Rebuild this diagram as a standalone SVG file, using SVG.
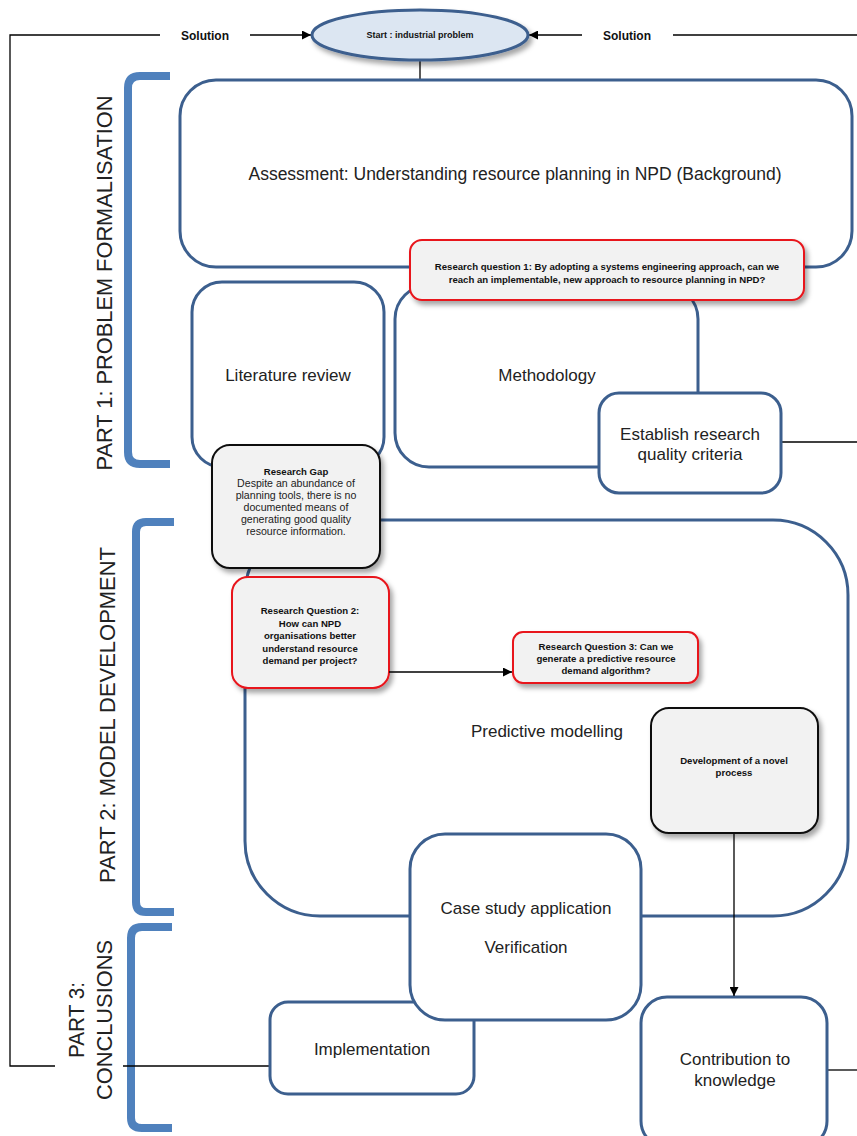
<svg xmlns="http://www.w3.org/2000/svg" width="857" height="1136" viewBox="0 0 857 1136">
<style>
.box{fill:#fff;stroke:#3c5f8e;stroke-width:3}
.rq{fill:#f2f2f2;stroke:#e8141b;stroke-width:2}
.gry{fill:#f2f2f2;stroke:#111;stroke-width:2}
.brk{fill:none;stroke:#4f81bd;stroke-width:8;stroke-linecap:butt}
.ln{fill:none;stroke:#000;stroke-width:1.3}
.t{font-family:"Liberation Sans",Arial,sans-serif;font-size:17px;fill:#222;text-anchor:middle}
.b{font-family:"Liberation Sans",Arial,sans-serif;font-size:9.6px;font-weight:bold;fill:#111;text-anchor:middle}
.s{font-family:"Liberation Sans",Arial,sans-serif;font-size:10.6px;fill:#222;text-anchor:middle}
.sol{font-family:"Liberation Sans",Arial,sans-serif;font-size:12px;font-weight:bold;fill:#111;text-anchor:middle}
.part{font-family:"Liberation Sans",Arial,sans-serif;font-size:22px;fill:#222;text-anchor:middle}
</style>
<defs>
<marker id="arr" viewBox="0 0 10 10" refX="10" refY="5" markerWidth="9" markerHeight="9" markerUnits="userSpaceOnUse" orient="auto">
<path d="M0,0 L10,5 L0,10 z" fill="#000"/>
</marker>
<filter id="sh" x="-10%" y="-10%" width="125%" height="130%">
<feDropShadow dx="3" dy="4" stdDeviation="2.5" flood-color="#000" flood-opacity="0.35"/>
</filter>
</defs>

<g id="brackets">
<path class="brk" d="M170,76 L140,76 Q128,76 128,88 L128,452 Q128,464 140,464 L170,464"/>
<path class="brk" d="M174,522 L146,522 Q136,522 136,532 L136,902 Q136,912 146,912 L174,912"/>
<path class="brk" d="M172,927 L142,927 Q131,927 131,938 L131,1118 Q131,1128 142,1128 L172,1128"/>
</g>
<g id="part-labels">
<text class="part" transform="translate(112,283) rotate(-90)" textLength="375" lengthAdjust="spacingAndGlyphs">PART 1: PROBLEM FORMALISATION</text>
<text class="part" transform="translate(115,715) rotate(-90)" textLength="336" lengthAdjust="spacingAndGlyphs">PART 2:  MODEL DEVELOPMENT</text>
<text class="part" transform="translate(84,1020) rotate(-90)" textLength="76" lengthAdjust="spacingAndGlyphs">PART 3:</text>
<text class="part" transform="translate(112,1020) rotate(-90)" textLength="160" lengthAdjust="spacingAndGlyphs">CONCLUSIONS</text>
</g>

<g id="connectors">
<polyline class="ln" points="160,35 10,35 10,1066 55,1066"/>
<line class="ln" x1="123" y1="1066" x2="270" y2="1066"/>
<line class="ln" x1="250" y1="35" x2="311" y2="35" marker-end="url(#arr)"/>
<line class="ln" x1="582" y1="35" x2="529" y2="35" marker-end="url(#arr)"/>
<line class="ln" x1="673" y1="35" x2="857" y2="35"/>
<line class="ln" x1="420" y1="60" x2="420" y2="80"/>
<line class="ln" x1="781" y1="442" x2="857" y2="442"/>
<line class="ln" x1="827" y1="1070" x2="857" y2="1070"/>
</g>

<g id="start">
<ellipse cx="420" cy="35" rx="108" ry="25" fill="#dce6f2" stroke="#3c5f8e" stroke-width="3" filter="url(#sh)"/>
<text class="b" x="420" y="38" style="font-size:9px">Start : industrial problem</text>
</g>
<g id="solution-left"><text class="sol" x="205" y="40">Solution</text></g>
<g id="solution-right"><text class="sol" x="627" y="40">Solution</text></g>

<g id="assessment">
<rect class="box" x="180" y="80" width="672" height="187" rx="36"/>
<text class="t" x="515" y="180" style="font-size:17.5px">Assessment: Understanding resource planning in NPD (Background)</text>
</g>
<g id="literature">
<rect class="box" x="192" y="282" width="192" height="185" rx="30"/>
<text class="t" x="288" y="381">Literature review</text>
</g>
<g id="methodology">
<rect class="box" x="395" y="285" width="303" height="182" rx="34"/>
<text class="t" x="547" y="381">Methodology</text>
</g>
<g id="establish">
<rect class="box" x="599" y="393" width="182" height="100" rx="20"/>
<text class="t" x="690" y="440">Establish research</text>
<text class="t" x="690" y="460">quality criteria</text>
</g>
<g id="rq1">
<rect class="rq" x="410" y="240" width="394" height="60" rx="12" filter="url(#sh)"/>
<text class="b" x="607" y="270">Research question 1: By adopting a systems engineering approach, can we</text>
<text class="b" x="607" y="283">reach an implementable, new approach to resource planning in NPD?</text>
</g>

<g id="predictive">
<rect class="box" x="245" y="520" width="603" height="396" rx="75"/>
<text class="t" x="547" y="737">Predictive modelling</text>
</g>
<g id="research-gap">
<rect class="gry" x="212" y="445" width="168" height="123" rx="18" filter="url(#sh)"/>
<text class="b" x="296" y="475">Research Gap</text>
<text class="s" x="296" y="487">Despite an abundance of</text>
<text class="s" x="296" y="499">planning tools, there is no</text>
<text class="s" x="296" y="511">documented means of</text>
<text class="s" x="296" y="523">generating good quality</text>
<text class="s" x="296" y="535">resource information.</text>
</g>
<g id="rq2">
<rect class="rq" x="232" y="577" width="157" height="111" rx="16" filter="url(#sh)"/>
<text class="b" x="310" y="614">Research Question 2:</text>
<text class="b" x="310" y="627">How can NPD</text>
<text class="b" x="310" y="639">organisations better</text>
<text class="b" x="310" y="652">understand resource</text>
<text class="b" x="310" y="664">demand per project?</text>
</g>
<g id="rq3">
<rect class="rq" x="513" y="632" width="185" height="51" rx="10" filter="url(#sh)"/>
<text class="b" x="606" y="650">Research Question 3: Can we</text>
<text class="b" x="606" y="662">generate a predictive resource</text>
<text class="b" x="606" y="674">demand algorithm?</text>
</g>
<g id="development">
<rect class="gry" x="651" y="708" width="167" height="125" rx="18" filter="url(#sh)"/>
<text class="b" x="734" y="764">Development of a novel</text>
<text class="b" x="734" y="776">process</text>
</g>
<g id="implementation">
<rect class="box" x="270" y="1002" width="204" height="92" rx="18"/>
<text class="t" x="372" y="1055">Implementation</text>
</g>
<g id="case-study">
<rect class="box" x="410" y="834" width="231" height="186" rx="35"/>
<text class="t" x="526" y="914">Case study application</text>
<text class="t" x="526" y="953">Verification</text>
</g>
<g id="contribution">
<rect class="box" x="641" y="997" width="186" height="150" rx="26"/>
<text class="t" x="735" y="1065">Contribution to</text>
<text class="t" x="735" y="1086">knowledge</text>
</g>

<g id="arrows">
<line class="ln" x1="389" y1="672" x2="512" y2="672" marker-end="url(#arr)"/>
<line class="ln" x1="734" y1="834" x2="734" y2="996" marker-end="url(#arr)"/>
</g>
</svg>
